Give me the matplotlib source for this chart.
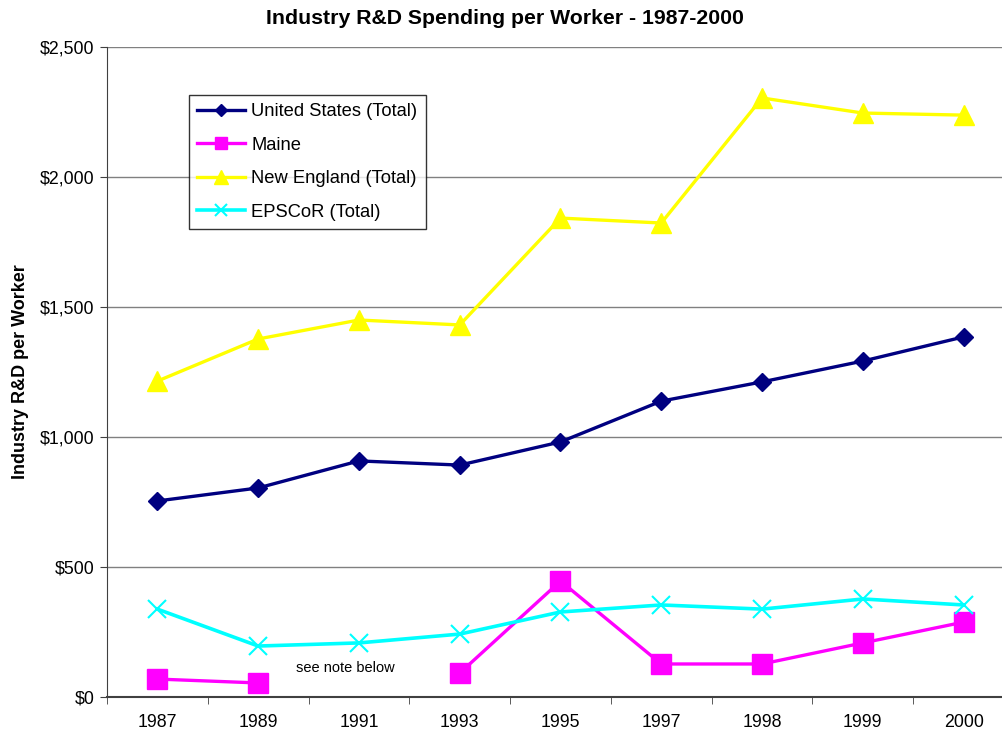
import numpy as np
import matplotlib.pyplot as plt

plt.rcParams['font.family'] = ['Liberation Sans', 'DejaVu Sans']

years = ["1987", "1989", "1991", "1993", "1995", "1997", "1998", "1999", "2000"]
us_total = [754, 804, 908, 892, 981, 1138, 1212, 1292, 1385]
maine = [69, 54, np.nan, 92, 446, 127, 127, 208, 288]
new_england = [1215, 1377, 1450, 1431, 1842, 1823, 2304, 2246, 2238]
epscor = [338, 196, 208, 242, 327, 354, 338, 377, 354]

fig = plt.figure(figsize=(10.03, 7.32), dpi=100)
ax = fig.add_axes([107 / 1003, 35 / 732, 907 / 1003, 650 / 732])

x = np.arange(len(years))
ax.plot(x, us_total, color="#000080", lw=2.4, marker="D", ms=9,
        label="United States (Total)")
ax.plot(x, maine, color="#FF00FF", lw=2.4, marker="s", ms=14,
        label="Maine")
ax.plot(x, new_england, color="#FFFF00", lw=2.4, marker="^", ms=15,
        label="New England (Total)")
ax.plot(x, epscor, color="#00FFFF", lw=2.6, marker="x", ms=13, mew=1.5,
        label="EPSCoR (Total)")

ax.set_xlim(-0.5, len(years) - 0.5)
ax.set_ylim(0, 2500)
ax.set_yticks(range(0, 2501, 500))
ax.set_yticklabels(["$0", "$500", "$1,000", "$1,500", "$2,000", "$2,500"])
ax.set_xticks(x)
ax.set_xticklabels(years)
ax.set_xticks(np.arange(-0.5, len(years), 1), minor=True)
ax.tick_params(axis="x", which="major", length=0, pad=12)
ax.tick_params(axis="x", which="minor", length=5, color="#404040")
ax.tick_params(axis="y", length=5, color="#404040", pad=4)
ax.tick_params(labelsize=12.8)

ax.yaxis.grid(True, color="#808080", lw=1)
ax.set_axisbelow(True)
for side in ["top", "right"]:
    ax.spines[side].set_visible(False)
ax.spines["left"].set_color("#404040")
ax.spines["bottom"].set_color("#404040")
ax.spines["bottom"].set_linewidth(1.5)

ax.text(1.87, 111, "see note below", fontsize=10.5, ha="center", va="center")

ax.set_ylabel("Industry R&D per Worker", fontsize=13, fontweight="bold", labelpad=8)
fig.text(505 / 1003, 1 - 18 / 732, "Industry R&D Spending per Worker - 1987-2000",
         ha="center", va="center", fontsize=15.3, fontweight="bold")

leg = ax.legend(loc="upper left", bbox_to_anchor=(82 / 907, 1 - 48 / 650),
                fontsize=13.2, fancybox=False, edgecolor="black",
                handlelength=2.6, borderpad=0.45, labelspacing=0.9,
                handletextpad=0.35, borderaxespad=0, markerscale=0.65)
leg.get_frame().set_linewidth(1)

fig.savefig("out.png", dpi=100)
